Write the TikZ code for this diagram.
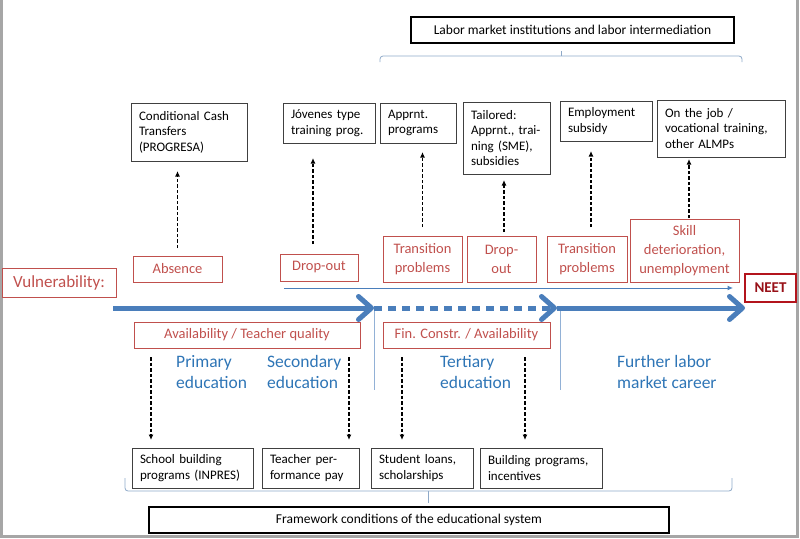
\documentclass[tikz,border=0pt]{standalone}
\usepackage{fontspec}
\setmainfont{Carlito}
\usetikzlibrary{arrows.meta,calc}
\definecolor{riskred}{HTML}{C0504D}
\definecolor{neetred}{HTML}{B3141C}
\definecolor{flowblue}{HTML}{4A7EBB}
\definecolor{stageblue}{HTML}{2E75B6}
\definecolor{clampgray}{HTML}{8EA9C8}
\begin{document}
\begin{tikzpicture}[x=1pt, y=-1pt, >={Latex[length=5.5pt,width=5pt]},
    prog/.style={draw=black!75, line width=0.8pt, anchor=north west, align=left, inner xsep=8pt, inner ysep=2pt, outer sep=0pt, font=\fontsize{13}{15.5}\selectfont},
    risk/.style={draw=riskred, line width=0.7pt, text=riskred, anchor=north west, align=center, inner sep=1pt, outer sep=0pt, font=\fontsize{14.5}{19}\selectfont},
    headbox/.style={draw, line width=1.5pt, anchor=north west, outer sep=0pt, font=\fontsize{13.5}{16}\selectfont},
    stage/.style={text=stageblue, anchor=north west, align=left, inner sep=0pt, font=\fontsize{17.5}{21}\selectfont},
    link/.style={->, dash pattern=on 3.5pt off 2pt, line width=1.4pt},
    timeline/.style={line width=5pt, flowblue, -{Straight Barb[length=13pt,width=23pt,round]}},
    clamp/.style={clampgray, line width=0.8pt, rounded corners=3pt}]
\useasboundingbox (0,0) rectangle (800,538);
\draw[gray!70, line width=3pt] (1.5,0) -- (1.5,536.5) -- (797,536.5) -- (797,0);

\node[headbox, minimum width=323, minimum height=26] (labor) at (411,17) {Labor market institutions and labor intermediation};
\draw[clamp] (380,62) |- (742,56) -- (742,62);
\draw[clamp] (561,56) -- (561,51);

\node[prog, text width=100, minimum height=58] (cct) at (131,103) {Conditional Cash\\Transfers\\(PROGRESA)};
\node[prog, text width=76, minimum height=40] (jov) at (283,103) {Jóvenes type\\training prog.};
\node[prog, text width=60, minimum height=40] (appr) at (380,103) {Apprnt.\\programs};
\node[prog, text width=71, minimum height=72] (tail) at (463,102) {Tailored:\\Apprnt., trai-\\ning (SME),\\subsidies};
\node[prog, text width=76, minimum height=40] (empl) at (560,101) {Employment\\subsidy};
\node[prog, text width=112, minimum height=57] (job) at (657,100) {On the job /\\vocational training,\\other ALMPs};

\node[risk, minimum width=114, minimum height=29, font=\fontsize{17}{20}\selectfont] (vuln) at (2,268) {Vulnerability:};
\node[risk, minimum width=89, minimum height=26] (abs) at (133,256) {Absence};
\node[risk, minimum width=78, minimum height=27] (drop) at (280,254) {Drop-out};
\node[risk, minimum width=79, minimum height=46] (trans) at (383,236) {Transition\\problems};
\node[risk, minimum width=69, minimum height=46] (drop2) at (467,236) {Drop-\\out};
\node[risk, minimum width=80, minimum height=46] (trans2) at (547,236) {Transition\\problems};
\node[risk, minimum width=109, minimum height=63] (skill) at (630,219) {Skill\\deterioration,\\unemployment};
\node[risk, draw=neetred, line width=2.5pt, text=neetred!85!black, font=\bfseries\fontsize{15}{18}\selectfont, minimum width=51, minimum height=28] (neet) at (745,274) {NEET};

\draw[link, shorten <=8pt, shorten >=10pt] (abs.north) -- (abs.north |- cct.south);
\draw[link, shorten <=10pt, shorten >=15pt] ($(drop.north)+(-6,0)$) -- ($(drop.north |- jov.south)+(-6,0)$);
\draw[link, shorten <=9pt, shorten >=9pt] (trans.north) -- (trans.north |- appr.south);
\draw[link, shorten <=4pt, shorten >=6pt] ($(drop2.north)+(2.5,0)$) -- ($(drop2.north |- tail.south)+(2.5,0)$);
\draw[link, shorten <=9pt, shorten >=10pt] ($(trans2.north)+(4,0)$) -- ($(trans2.north |- empl.south)+(4,0)$);
\draw[link, shorten <=1pt, shorten >=2pt] ($(skill.north)+(4.5,0)$) -- ($(skill.north |- job.south)+(4.5,0)$);

\draw[->, flowblue, line width=1pt] ([shift={(4,7)}]drop.south west) -- ([xshift=-12pt]neet.west);

\coordinate (t0) at (113,308);
\coordinate (t1) at (374,308);
\coordinate (t2) at (557,308);
\coordinate (t3) at (745,308);
\draw[flowblue!60, line width=0.8pt] (t1) -- ++(0,82);
\draw[flowblue!60, line width=0.8pt] ($(t2)+(3,0)$) -- ++(0,82);
\draw[timeline] (t0) -- (t1);
\draw[timeline, dash pattern=on 8pt off 6pt] (t1) -- (t2);
\draw[timeline] (t2) -- (t3);

\node[risk, minimum width=226, minimum height=26] (avail) at (134,322) {Availability / Teacher quality};
\node[risk, minimum width=167, minimum height=26] (fin) at (383,322) {Fin. Constr. / Availability};

\node[stage] (prim) at (176,355) {Primary\\education};
\node[stage] (sec) at (267,355) {Secondary\\education};
\node[stage] (tert) at (440,355) {Tertiary\\education};
\node[stage] (career) at (617,355) {Further labor\\market career};

\node[prog, text width=105, minimum height=40] (school) at (132,448) {School building\\programs (INPRES)};
\node[prog, text width=81, minimum height=40] (teacher) at (262,448) {Teacher per-\\formance pay};
\node[prog, text width=86, minimum height=40] (student) at (371,448) {Student loans,\\scholarships};
\node[prog, text width=106, minimum height=40] (build) at (480,448) {Building programs,\\incentives};

\coordinate (s1) at ($(school.north west)+(19,0)$);
\coordinate (s2) at ($(teacher.north east)+(-10,0)$);
\coordinate (s3) at ($(student.north west)+(31,0)$);
\coordinate (s4) at ($(build.north west)+(45,0)$);
\draw[link, shorten <=9pt, shorten >=8pt] (s1 |- avail.south) -- (s1);
\draw[link, shorten <=9pt, shorten >=8pt] (s2 |- avail.south) -- (s2);
\draw[link, shorten <=9pt, shorten >=8pt] (s3 |- fin.south) -- (s3);
\draw[link, shorten <=9pt, shorten >=8pt] (s4 |- fin.south) -- (s4);

\draw[clamp] (125,478) |- (732,491) -- (732,478);
\draw[clamp] (428,491) -- (428,503);
\node[headbox, minimum width=520, minimum height=26] (frame) at (149,507) {Framework conditions of the educational system};
\end{tikzpicture}
\end{document}
